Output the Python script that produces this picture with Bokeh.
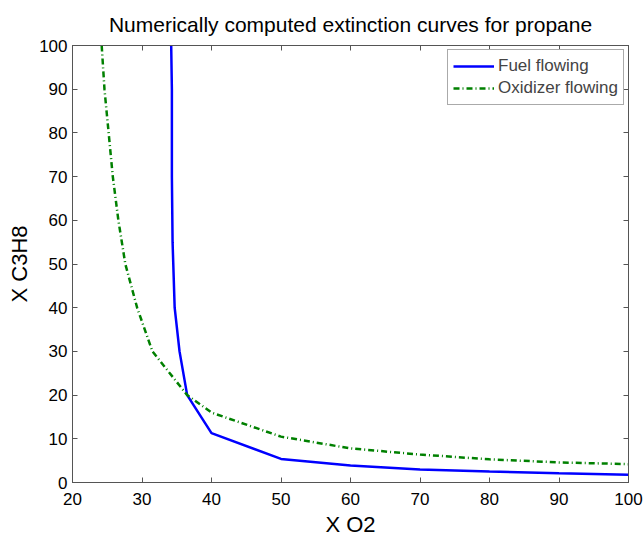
from bokeh.plotting import figure
from bokeh.models import LinearAxis, Range1d, Legend, LegendItem, FixedTicker
from bokeh.embed import file_html
from bokeh.resources import INLINE

fuel_x = [34.2, 34.3, 34.3, 34.4, 34.7, 35.4, 36.5, 40, 50, 60, 70, 80, 90, 100]
fuel_y = [100, 90, 70, 55, 40, 30, 20, 11.3, 5.4, 3.9, 3.0, 2.5, 2.1, 1.8]
oxid_x = [24.2, 24.6, 25.2, 25.8, 26.6, 27.6, 29.3, 31.5, 36.5, 40, 50, 60, 70, 80, 90, 100]
oxid_y = [100, 90, 80, 70, 60, 50, 40, 30, 20, 16, 10.5, 7.8, 6.4, 5.3, 4.6, 4.2]
x_ticks = [20, 30, 40, 50, 60, 70, 80, 90, 100]
y_ticks = [0, 10, 20, 30, 40, 50, 60, 70, 80, 90, 100]

FONT = "Liberation Sans"
AX = "#555555"

p = figure(width=644, height=539, output_backend="svg", toolbar_location=None,
           x_range=Range1d(20, 100), y_range=Range1d(0, 100),
           title="Numerically computed extinction curves for propane",
           min_border_left=72, min_border_right=16, min_border_top=44, min_border_bottom=57)
p.title.text_font = FONT
p.title.text_font_size = "21px"
p.title.text_font_style = "normal"
p.title.align = "center"
p.title.text_color = "black"
p.title.standoff = 20
p.xgrid.visible = False
p.ygrid.visible = False
p.outline_line_color = AX
p.outline_line_width = 1

for ax, ticks in ((p.xaxis[0], x_ticks), (p.yaxis[0], y_ticks)):
    ax.ticker = FixedTicker(ticks=ticks)
    ax.minor_tick_line_color = None
    ax.major_tick_in = 5
    ax.major_tick_out = 0
    ax.axis_line_color = AX
    ax.major_tick_line_color = AX
    ax.major_label_text_font = FONT
    ax.major_label_text_font_size = "17px"
    ax.major_label_text_color = "black"
    ax.axis_label_text_font = FONT
    ax.axis_label_text_font_size = "22px"
    ax.axis_label_text_font_style = "normal"
    ax.axis_label_text_color = "black"
p.xaxis.axis_label = "X O2"
p.yaxis.axis_label = "X C3H8"
p.xaxis.major_label_standoff = 10
p.yaxis.major_label_standoff = 5
p.xaxis.axis_label_standoff = 4
p.yaxis.axis_label_standoff = 4

top = LinearAxis(ticker=FixedTicker(ticks=x_ticks), major_label_text_font_size="1px",
                 major_label_text_color=None,
                 major_tick_in=5, major_tick_out=0, minor_tick_line_color=None,
                 axis_line_color=AX, major_tick_line_color=AX, major_label_standoff=0)
right = LinearAxis(ticker=FixedTicker(ticks=y_ticks), major_label_text_font_size="1px",
                   major_label_text_color=None,
                   major_tick_in=5, major_tick_out=0, minor_tick_line_color=None,
                   axis_line_color=AX, major_tick_line_color=AX, major_label_standoff=0)
p.add_layout(top, "above")
p.add_layout(right, "right")

r1 = p.line(fuel_x, fuel_y, line_color="#0000ff", line_width=2.5)
r2 = p.line(oxid_x, oxid_y, line_color="#008000", line_width=2.5, line_dash="6 3 1 3")

legend = Legend(items=[LegendItem(label="Fuel flowing", renderers=[r1]),
                       LegendItem(label="Oxidizer flowing", renderers=[r2])],
                location="top_right", label_text_font=FONT, label_text_font_size="17px",
                glyph_width=41, glyph_height=22, label_height=22, label_standoff=4, spacing=0,
                padding=5, margin=4, border_line_color=AX, background_fill_alpha=1)
p.add_layout(legend)

open("out.html", "w").write(file_html(p, INLINE))
